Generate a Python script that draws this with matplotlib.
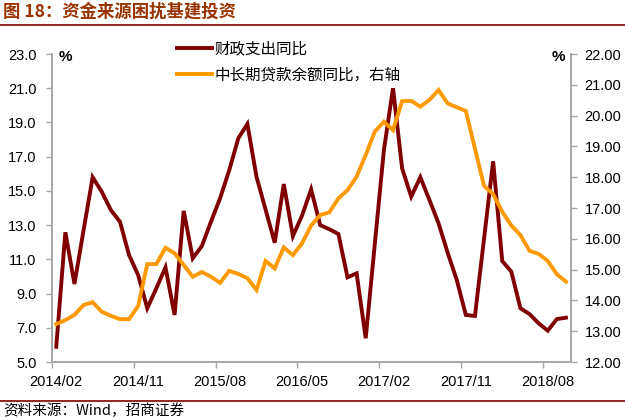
import matplotlib
matplotlib.use("Agg")
import matplotlib.pyplot as plt
from matplotlib.lines import Line2D
import numpy as np

plt.rcParams['font.family'] = ['Liberation Sans', 'Noto Sans CJK SC', 'DejaVu Sans']

# ---- data ----
tick_labels = ['2014/02', '2014/11', '2015/08', '2016/05', '2017/02', '2017/11', '2018/08']

fiscal_yoy = [5.89, 12.58, 9.56, 12.7, 15.8, 14.95, 13.88, 13.2, 11.25, 10.08,
              8.14, 9.31, 10.53, 7.75, 13.83, 11.06, 11.78, 13.2, 14.57, 16.2,
              18.07, 18.91, 15.83, 13.9, 11.97, 15.40, 12.36, 13.55, 15.09, 13.0,
              12.76, 12.48, 9.95, 10.18, 6.39, 11.9, 17.39, 21.0, 16.32, 14.66,
              15.8, 14.47, 13.11, 11.39, 9.8, 7.75, 7.69, 12.2, 16.73, 10.9,
              10.28, 8.14, 7.8, 7.26, 6.83, 7.51, 7.59]

loan_yoy = [13.23, 13.36, 13.53, 13.85, 13.94, 13.63, 13.5, 13.39, 13.39, 13.82,
            15.18, 15.18, 15.71, 15.53, 15.15, 14.77, 14.92, 14.77, 14.57, 14.96,
            14.86, 14.72, 14.34, 15.28, 15.04, 15.72, 15.47, 15.85, 16.43, 16.77,
            16.86, 17.31, 17.58, 18.02, 18.72, 19.48, 19.80, 19.53, 20.47, 20.48,
            20.29, 20.51, 20.83, 20.40, 20.27, 20.15, 18.93, 17.72, 17.45, 16.88,
            16.43, 16.12, 15.61, 15.51, 15.28, 14.85, 14.61]

series_names = ['财政支出同比', '中长期贷款余额同比，右轴']

# ---- figure ----
W, H = 625, 420
fig = plt.figure(figsize=(W / 100, H / 100), dpi=100)
L, R, T, B = 51.7, 570.5, 54, 362
ax = fig.add_axes([L / W, 1 - B / H, (R - L) / W, (B - T) / H])
ax2 = ax.twinx()

red = '#800000'
orange = '#FF9900'
spine_c = '#A6A6A6'

x = np.arange(len(fiscal_yoy))
ax.plot(x, fiscal_yoy, color=red, lw=2.8, solid_joinstyle='miter', zorder=3)
ax2.plot(x, loan_yoy, color=orange, lw=2.8, solid_joinstyle='miter', zorder=3)

n = len(fiscal_yoy)
ax.set_xlim(-0.5, n - 0.5)
ax.set_ylim(5, 23)
ax.set_yticks(np.arange(5, 23.01, 2))
ax.set_yticklabels([f'{v:.1f}' for v in np.arange(5, 23.01, 2)])
ax2.set_ylim(12, 22)
ax2.set_yticks(np.arange(12, 22.01, 1))
ax2.set_yticklabels([f'{v:.2f}' for v in np.arange(12, 22.01, 1)])

lab_pos = np.arange(0, 9 * len(tick_labels), 9)
ax.set_xticks(lab_pos)
ax.set_xticklabels(tick_labels)
ax.set_xticks(lab_pos - 0.5, minor=True)
ax.tick_params(axis='x', which='major', length=0, pad=9, labelsize=10.5, colors='black')
ax.tick_params(axis='x', which='minor', length=4, width=1, color=spine_c)
ax.tick_params(axis='y', length=4, width=1, color=spine_c, pad=7, labelsize=10.5)
ax2.tick_params(axis='y', length=4, width=1, color=spine_c, pad=6, labelsize=10.5)

for a in (ax, ax2):
    a.spines['top'].set_visible(False)
    for s in ('left', 'right', 'bottom'):
        a.spines[s].set_color(spine_c)
        a.spines[s].set_linewidth(1.2)

fig.text(59 / W, 1 - 57 / H, '%', fontsize=11, fontweight='bold', ha='left', va='center')
fig.text(565 / W, 1 - 57 / H, '%', fontsize=11, fontweight='bold', ha='right', va='center')

handles = [Line2D([], [], color=red, lw=2.8), Line2D([], [], color=orange, lw=2.8)]
leg = fig.legend(handles, series_names, loc='upper left',
                 bbox_to_anchor=(176.7 / W, 1 - 40 / H), bbox_transform=fig.transFigure,
                 frameon=False, borderpad=0, borderaxespad=0, handlelength=2.3,
                 handletextpad=0.1, labelspacing=0.6,
                 prop={'family': ['Noto Sans CJK SC', 'DejaVu Sans'], 'size': 11.2})

# title and source
fig.text(3 / W, 1 - 12 / H, '图 18：资金来源困扰基建投资', fontsize=12.5, fontweight='bold',
         color='#993300', ha='left', va='center',
         family=['Noto Sans CJK SC', 'DejaVu Sans'])
fig.add_artist(Line2D([0, 1], [1 - 25 / H, 1 - 25 / H], transform=fig.transFigure,
                      color=red, lw=1.2))
fig.add_artist(Line2D([0, 1], [1 - 401 / H, 1 - 401 / H], transform=fig.transFigure,
                      color=red, lw=1.2))
fig.text(3 / W, 1 - 411 / H, '资料来源：Wind，招商证券', fontsize=10.5, ha='left', va='center',
         family=['Noto Sans CJK SC', 'DejaVu Sans'])

fig.savefig('out.png', dpi=100)
